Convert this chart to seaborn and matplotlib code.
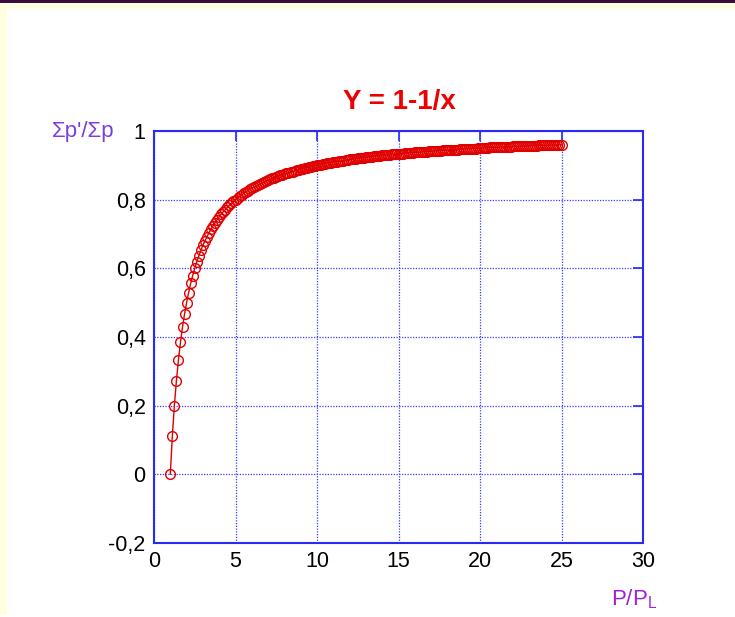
import matplotlib
matplotlib.use("Agg")
import matplotlib.pyplot as plt
import seaborn as sns
import pandas as pd
from matplotlib.patches import Rectangle

# P/PL sample positions (1 to 25, steps of 1/8)
p_ratio = [
    1.0, 1.125, 1.25, 1.375, 1.5, 1.625, 1.75, 1.875,
    2.0, 2.125, 2.25, 2.375, 2.5, 2.625, 2.75, 2.875,
    3.0, 3.125, 3.25, 3.375, 3.5, 3.625, 3.75, 3.875,
    4.0, 4.125, 4.25, 4.375, 4.5, 4.625, 4.75, 4.875,
    5.0, 5.125, 5.25, 5.375, 5.5, 5.625, 5.75, 5.875,
    6.0, 6.125, 6.25, 6.375, 6.5, 6.625, 6.75, 6.875,
    7.0, 7.125, 7.25, 7.375, 7.5, 7.625, 7.75, 7.875,
    8.0, 8.125, 8.25, 8.375, 8.5, 8.625, 8.75, 8.875,
    9.0, 9.125, 9.25, 9.375, 9.5, 9.625, 9.75, 9.875,
    10.0, 10.125, 10.25, 10.375, 10.5, 10.625, 10.75, 10.875,
    11.0, 11.125, 11.25, 11.375, 11.5, 11.625, 11.75, 11.875,
    12.0, 12.125, 12.25, 12.375, 12.5, 12.625, 12.75, 12.875,
    13.0, 13.125, 13.25, 13.375, 13.5, 13.625, 13.75, 13.875,
    14.0, 14.125, 14.25, 14.375, 14.5, 14.625, 14.75, 14.875,
    15.0, 15.125, 15.25, 15.375, 15.5, 15.625, 15.75, 15.875,
    16.0, 16.125, 16.25, 16.375, 16.5, 16.625, 16.75, 16.875,
    17.0, 17.125, 17.25, 17.375, 17.5, 17.625, 17.75, 17.875,
    18.0, 18.125, 18.25, 18.375, 18.5, 18.625, 18.75, 18.875,
    19.0, 19.125, 19.25, 19.375, 19.5, 19.625, 19.75, 19.875,
    20.0, 20.125, 20.25, 20.375, 20.5, 20.625, 20.75, 20.875,
    21.0, 21.125, 21.25, 21.375, 21.5, 21.625, 21.75, 21.875,
    22.0, 22.125, 22.25, 22.375, 22.5, 22.625, 22.75, 22.875,
    23.0, 23.125, 23.25, 23.375, 23.5, 23.625, 23.75, 23.875,
    24.0, 24.125, 24.25, 24.375, 24.5, 24.625, 24.75, 24.875,
    25.0,
]

# Sigma p' / Sigma p values
sigma_ratio = [
    0.0, 0.111, 0.2, 0.273, 0.333, 0.385, 0.429, 0.467,
    0.5, 0.529, 0.556, 0.579, 0.6, 0.619, 0.636, 0.652,
    0.667, 0.68, 0.692, 0.704, 0.714, 0.724, 0.733, 0.742,
    0.75, 0.758, 0.765, 0.771, 0.778, 0.784, 0.789, 0.795,
    0.8, 0.805, 0.81, 0.814, 0.818, 0.822, 0.826, 0.83,
    0.833, 0.837, 0.84, 0.843, 0.846, 0.849, 0.852, 0.855,
    0.857, 0.86, 0.862, 0.864, 0.867, 0.869, 0.871, 0.873,
    0.875, 0.877, 0.879, 0.881, 0.882, 0.884, 0.886, 0.887,
    0.889, 0.89, 0.892, 0.893, 0.895, 0.896, 0.897, 0.899,
    0.9, 0.901, 0.902, 0.904, 0.905, 0.906, 0.907, 0.908,
    0.909, 0.91, 0.911, 0.912, 0.913, 0.914, 0.915, 0.916,
    0.917, 0.918, 0.918, 0.919, 0.92, 0.921, 0.922, 0.922,
    0.923, 0.924, 0.925, 0.925, 0.926, 0.927, 0.927, 0.928,
    0.929, 0.929, 0.93, 0.93, 0.931, 0.932, 0.932, 0.933,
    0.933, 0.934, 0.934, 0.935, 0.935, 0.936, 0.937, 0.937,
    0.938, 0.938, 0.938, 0.939, 0.939, 0.94, 0.94, 0.941,
    0.941, 0.942, 0.942, 0.942, 0.943, 0.943, 0.944, 0.944,
    0.944, 0.945, 0.945, 0.946, 0.946, 0.946, 0.947, 0.947,
    0.947, 0.948, 0.948, 0.948, 0.949, 0.949, 0.949, 0.95,
    0.95, 0.95, 0.951, 0.951, 0.951, 0.952, 0.952, 0.952,
    0.952, 0.953, 0.953, 0.953, 0.953, 0.954, 0.954, 0.954,
    0.955, 0.955, 0.955, 0.955, 0.956, 0.956, 0.956, 0.956,
    0.957, 0.957, 0.957, 0.957, 0.957, 0.958, 0.958, 0.958,
    0.958, 0.959, 0.959, 0.959, 0.959, 0.959, 0.96, 0.96,
    0.96,
]

x_ticks = [0, 5, 10, 15, 20, 25, 30]
x_tick_labels = ["0", "5", "10", "15", "20", "25", "30"]
y_ticks = [-0.2, 0.0, 0.2, 0.4, 0.6, 0.8, 1.0]
y_tick_labels = ["-0,2", "0", "0,2", "0,4", "0,6", "0,8", "1"]

title_text = "Y = 1-1/x"
ylabel_text = "Σp'/Σp"

sns.set_style("white")
FAM = ["Liberation Sans", "DejaVu Sans"]
plt.rcParams["font.family"] = FAM
plt.rcParams["mathtext.fontset"] = "custom"
plt.rcParams["mathtext.rm"] = "Liberation Sans"

W, H = 735, 617
fig = plt.figure(figsize=(W / 100, H / 100), dpi=100, facecolor="white")

# page decoration (top band and light yellow margins)
fig.patches.append(Rectangle((0, 1 - 9 / H), 1, 6 / H, transform=fig.transFigure,
                             facecolor="#ffffe0", edgecolor="none", zorder=0))
fig.patches.append(Rectangle((0, 2 / H), 7 / W, 1 - 11 / H, transform=fig.transFigure,
                             facecolor="#ffffe0", edgecolor="none", zorder=0))
fig.patches.append(Rectangle((0, 1 - 3 / H), 1, 3 / H, transform=fig.transFigure,
                             facecolor="#3a0c3e", edgecolor="none", zorder=0))

ax = fig.add_axes([154 / W, 1 - 543 / H, (643 - 154) / W, (543 - 131) / H])
ax.set_facecolor("white")

df = pd.DataFrame({"x": p_ratio, "y": sigma_ratio})
sns.lineplot(data=df, x="x", y="y", ax=ax, color="#e00000", linewidth=1.0,
             marker="o", markersize=7, markerfacecolor="none",
             markeredgecolor="#e00000", markeredgewidth=1.0, zorder=3,
             estimator=None, sort=False)

ax.set_xlim(0, 30)
ax.set_ylim(-0.2, 1.0)
ax.set_xticks(x_ticks)
ax.set_xticklabels(x_tick_labels)
ax.set_yticks(y_ticks)
ax.set_yticklabels(y_tick_labels)
ax.set_xlabel("")
ax.set_ylabel("")

blue = "#2a2af0"
for s in ax.spines.values():
    s.set_visible(True)
    s.set_color(blue)
    s.set_linewidth(1.5)
ax.grid(True, color="#3a3aff", linestyle=(0, (1, 1.2)), linewidth=0.9)
ax.set_axisbelow(True)
ax.tick_params(axis="both", which="major", direction="in", length=7, width=1.2,
               color=blue, top=True, right=True, labelsize=15.5, labelcolor="black")
ax.tick_params(axis="x", pad=6)
ax.tick_params(axis="y", pad=6)
for lab in ax.get_xticklabels() + ax.get_yticklabels():
    lab.set_family(FAM)

fig.text(399 / W, 1 - 101.5 / H, title_text, color="#ee0000", fontsize=20,
         fontweight="bold", ha="center", va="center", family=FAM)
fig.text(52 / W, 1 - 131 / H, ylabel_text, color="#7a3ee0", fontsize=16,
         ha="left", va="center", family=FAM)
fig.text(611 / W, 1 - 605 / H, r"P/P$_{\mathrm{L}}$", color="#a020d8", fontsize=16,
         ha="left", va="baseline", family=FAM)

fig.savefig("out.png", dpi=100, facecolor=fig.get_facecolor())
